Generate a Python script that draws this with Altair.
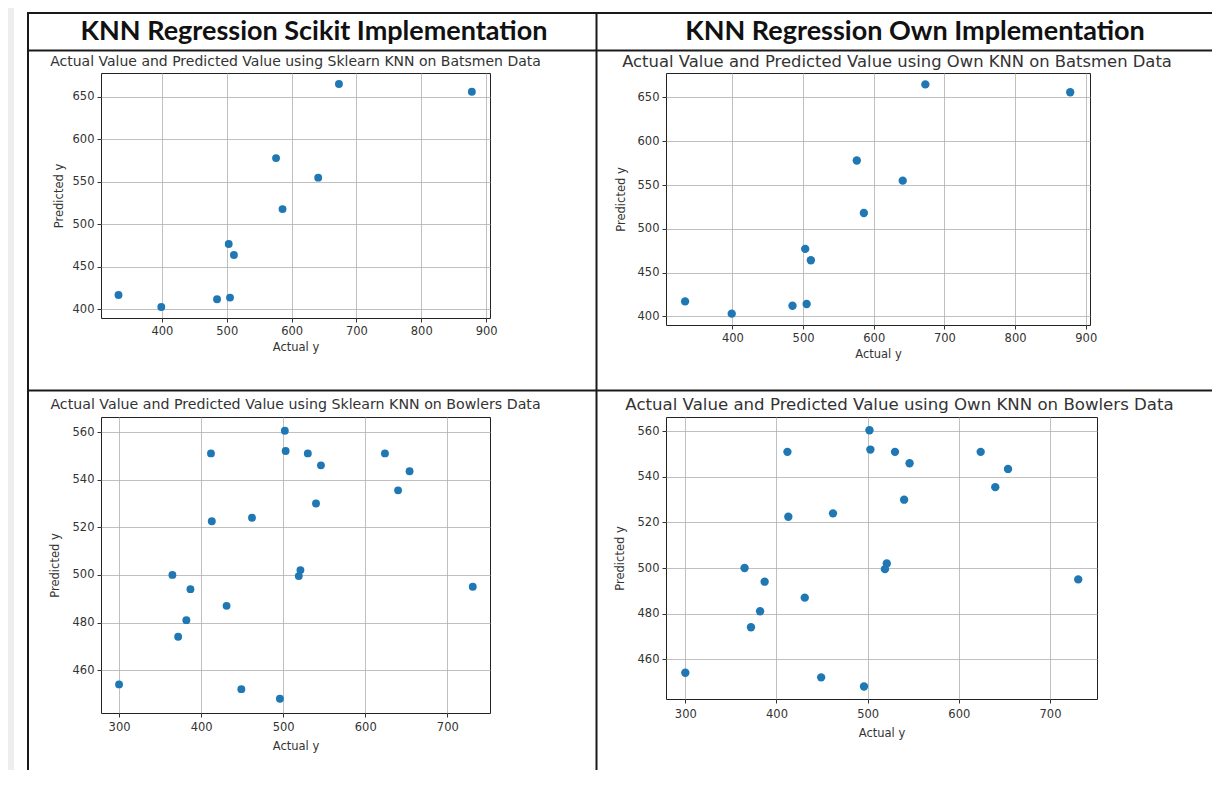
import altair as alt
import pandas as pd

# ---------------- data ----------------
bat_actual = [333, 399, 485, 505, 503, 511, 576, 586, 641, 673, 878]
bat_pred = [417, 403, 412, 414, 477, 464, 578, 518, 555, 665, 656]

bowl_actual = [300, 365, 372, 382, 387, 412, 413, 431, 449, 462, 496,
               502, 503, 521, 519, 530, 540, 546, 624, 640, 654, 731]
bowl_pred = [454, 500, 474, 481, 494, 551, 522.5, 487, 452, 524, 448,
             560.5, 552, 502, 499.5, 551, 530, 546, 551, 535.5, 543.5, 495]

bat_x_ticks = [400, 500, 600, 700, 800, 900]
bat_y_ticks = [400, 450, 500, 550, 600, 650]
bowl_x_ticks = [300, 400, 500, 600, 700]
bowl_y_ticks = [460, 480, 500, 520, 540, 560]

headers = ["KNN Regression Scikit Implementation", "KNN Regression Own Implementation"]
titles = [
    "Actual Value and Predicted Value using Sklearn KNN on Batsmen Data",
    "Actual Value and Predicted Value using Own KNN on Batsmen Data",
    "Actual Value and Predicted Value using Sklearn KNN on Bowlers Data",
    "Actual Value and Predicted Value using Own KNN on Bowlers Data",
]

bat_df = pd.DataFrame({"actual": bat_actual, "pred": bat_pred})
bowl_df = pd.DataFrame({"actual": bowl_actual, "pred": bowl_pred})

FONT = "DejaVu Sans"
INK = "#333333"
DOT = "#1f77b4"


def one():
    return pd.DataFrame({"k": [0]})


def panel(df, title, xdom, ydom, xt, yt, w, h, tsize, dx, offset,
          xlp, xtp, ytp, dot):
    return alt.Chart(
        df, view=alt.ViewBackground(stroke="#222222", strokeWidth=1)
    ).mark_circle(size=dot, color=DOT, opacity=1).encode(
        x=alt.X("actual:Q",
                scale=alt.Scale(domain=xdom, nice=False, zero=False),
                axis=alt.Axis(title="Actual y", values=xt,
                              labelPadding=xlp, titlePadding=xtp)),
        y=alt.Y("pred:Q",
                scale=alt.Scale(domain=ydom, nice=False, zero=False),
                axis=alt.Axis(title="Predicted y", values=yt,
                              labelPadding=3, titlePadding=ytp)),
    ).properties(
        width=w, height=h,
        title=alt.TitleParams(titles[title], font=FONT, fontSize=tsize,
                              fontWeight="normal", color=INK, anchor="middle",
                              offset=offset, dx=dx),
    )


def spacer(w, h):
    return alt.Chart(one()).mark_point(opacity=0).encode(
        x=alt.value(0), y=alt.value(0)
    ).properties(width=w, height=h)


# ---------------- table frame (decorative, page coordinates) ----------------
OX, OY = 101, 13


def rule(x1, y1, x2, y2, color="#1a1a1a", w=2):
    return alt.Chart(one()).mark_rule(color=color, strokeWidth=w).encode(
        x=alt.value(x1 - OX), x2=alt.value(x2 - OX),
        y=alt.value(y1 - OY), y2=alt.value(y2 - OY))


band = alt.Chart(one()).mark_rect(color="#eeeeee").encode(
    x=alt.value(8 - OX), x2=alt.value(14 - OX),
    y=alt.value(8 - OY), y2=alt.value(770 - OY))

lines = [
    rule(27, 13, 1212, 13),
    rule(27, 50.5, 1212, 50.5),
    rule(27, 390.5, 1212, 390.5),
    rule(28, 12, 28, 770),
    rule(596.5, 12, 596.5, 770),
]


def header_text(i, cx):
    return alt.Chart(one()).mark_text(
        text=headers[i], font="Lato", fontSize=27, fontWeight="bold",
        color="#111111", align="center", baseline="middle"
    ).encode(x=alt.value(cx - OX), y=alt.value(31.5 - OY))


header = alt.layer(band, *lines, header_text(0, 314), header_text(1, 915)).properties(
    width=389, height=60)

p1 = panel(bat_df, 0, [306, 906], [390, 678], bat_x_ticks, bat_y_ticks,
           389, 245, 14, 0, 4, 3, 5, 8, 62)
p2 = panel(bat_df, 1, [306, 906], [390, 678], bat_x_ticks, bat_y_ticks,
           424, 252, 16.4, 19, 3, 3, 5, 11, 70)
p3 = panel(bowl_df, 2, [278, 752], [442, 566.3], bowl_x_ticks, bowl_y_ticks,
           389, 296, 14.2, 0, 5, 4.5, 7, 12, 62)
p4 = panel(bowl_df, 3, [278.8, 751.6], [442.5, 566.3], bowl_x_ticks, bowl_y_ticks,
           431, 282, 16.6, 18, 3, 5, 8, 12, 70)

chart = alt.concat(
    header, spacer(1, 60),
    p1, p2,
    spacer(1, 92), spacer(1, 92),
    p3, p4,
    columns=2, spacing={"row": 0, "column": 176}, align="each", bounds="flush",
).properties(
    padding={"left": 0, "top": 0, "right": 0, "bottom": 0},
    background="white",
).configure_view(
    stroke=None
).configure_axis(
    labelFont=FONT, titleFont=FONT, titleFontWeight="normal",
    labelFontSize=11.5, titleFontSize=11.5,
    labelColor=INK, titleColor=INK, tickColor=INK, tickSize=4,
    domain=False, grid=True, gridColor="#b0b0b0", gridWidth=0.8,
    labelFlush=False,
)

chart.save("out.html", embed_options={"renderer": "svg", "actions": False})
